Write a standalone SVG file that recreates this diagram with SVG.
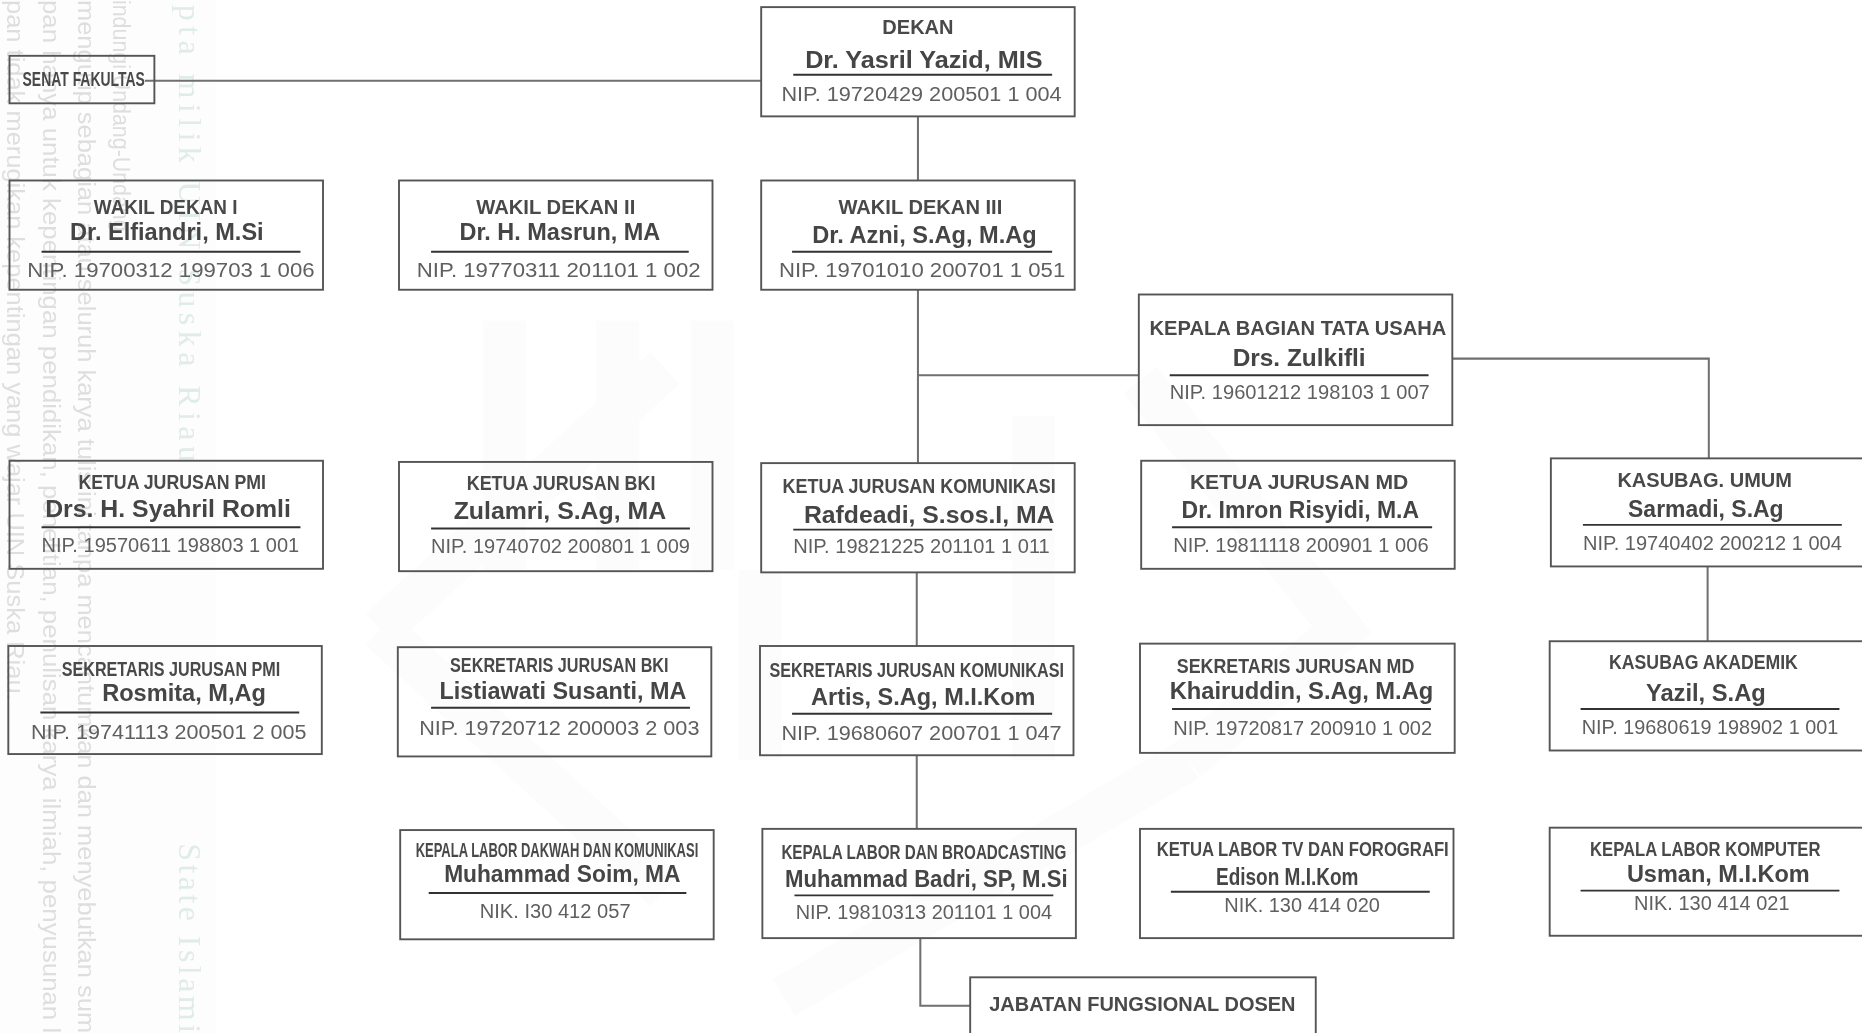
<svg xmlns="http://www.w3.org/2000/svg" width="1862" height="1033" viewBox="0 0 1862 1033">
<style>
text{font-family:"Liberation Sans",Arial,sans-serif}
.b{fill:none;stroke:#555;stroke-width:1.6}
.u{stroke:#333;stroke-width:1.6;fill:none}
.c{fill:none;stroke:#6f6f6f;stroke-width:1.7}
.l{font-size:16.5px;font-weight:700;fill:#484848}
.n{font-size:20px;font-weight:700;fill:#444}
.p{font-size:17.5px;fill:#5f5f5f}
.w{font-size:19.5px;fill:#dedede}
.g{font-size:27px;fill:#e0ece8;font-family:"Liberation Serif",serif}
</style>
<defs><filter id="soft" x="-2%" y="-2%" width="104%" height="104%"><feGaussianBlur stdDeviation="0.3"/></filter></defs>
<g transform="scale(1.1875)" filter="url(#soft)">
<g id="background">
<rect x="0" y="0" width="182" height="870" fill="#fdfdfd"/>
<g fill="none" stroke="#fcfcfc" stroke-width="36">
<path d="M320 530L560 310M560 750L320 530M660 840L1000 640M960 320L1130 530L1000 640"/>
<path d="M425 270V480M520 270V480M600 270V480M870 350V640M640 480V640"/>
</g>
<text class="w" transform="translate(95,0) rotate(90)" textLength="195" lengthAdjust="spacingAndGlyphs">indungi Undang-Undang</text>
<text class="w" transform="translate(66,0) rotate(90)" textLength="870" lengthAdjust="spacingAndGlyphs">mengutip sebagian atau seluruh karya tulis ini tanpa mencantumkan dan menyebutkan sum</text>
<text class="w" transform="translate(36,0) rotate(90)" textLength="870" lengthAdjust="spacingAndGlyphs">pan hanya untuk kepentingan pendidikan, penelitian, penulisan karya ilmiah, penyusunan l</text>
<text class="w" transform="translate(6,0) rotate(90)" textLength="590" lengthAdjust="spacingAndGlyphs">pan tidak merugikan kepentingan yang wajar UIN Suska Riau.</text>
<text class="g" transform="translate(151,4) rotate(90)" textLength="385" lengthAdjust="spacing">pta milik UIN Suska Riau</text>
<text class="g" transform="translate(151,710) rotate(90)" textLength="160" lengthAdjust="spacing">State Islami</text>
</g>
<g id="connectors">
<path class="c" d="M122 68H641"/>
<path class="c" d="M773 98V152"/>
<path class="c" d="M773 244V390"/>
<path class="c" d="M773 316H959"/>
<path class="c" d="M772 482V544"/>
<path class="c" d="M772 636V698"/>
<path class="c" d="M775 790V847H817"/>
<path class="c" d="M1223 302H1439V386"/>
<path class="c" d="M1438 477V540"/>
</g>
<g id="senat"><rect class="b" x="8" y="47" width="122" height="40"/><text class="l" x="19" y="72" textLength="103" lengthAdjust="spacingAndGlyphs">SENAT FAKULTAS</text></g>
<g id="dekan"><rect class="b" x="641" y="6" width="264" height="92"/>
<text class="l" x="743" y="29" textLength="60" lengthAdjust="spacingAndGlyphs">DEKAN</text>
<text class="n" x="678" y="57" textLength="200" lengthAdjust="spacingAndGlyphs">Dr. Yasril Yazid, MIS</text>
<path class="u" d="M668 63H886"/>
<text class="p" x="658" y="85" textLength="236" lengthAdjust="spacingAndGlyphs">NIP. 19720429 200501 1 004</text></g>
<g id="wakil-dekan-1"><rect class="b" x="8" y="152" width="264" height="92"/>
<text class="l" x="79" y="180" textLength="121" lengthAdjust="spacingAndGlyphs">WAKIL DEKAN I</text>
<text class="n" x="59" y="202" textLength="163" lengthAdjust="spacingAndGlyphs">Dr. Elfiandri, M.Si</text>
<path class="u" d="M35 212H253"/>
<text class="p" x="23" y="233" textLength="242" lengthAdjust="spacingAndGlyphs">NIP. 19700312 199703 1 006</text></g>
<g id="wakil-dekan-2"><rect class="b" x="336" y="152" width="264" height="92"/>
<text class="l" x="401" y="180" textLength="134" lengthAdjust="spacingAndGlyphs">WAKIL DEKAN II</text>
<text class="n" x="387" y="202" textLength="169" lengthAdjust="spacingAndGlyphs">Dr. H. Masrun, MA</text>
<path class="u" d="M363 212H580"/>
<text class="p" x="351" y="233" textLength="239" lengthAdjust="spacingAndGlyphs">NIP. 19770311 201101 1 002</text></g>
<g id="wakil-dekan-3"><rect class="b" x="641" y="152" width="264" height="92"/>
<text class="l" x="706" y="180" textLength="138" lengthAdjust="spacingAndGlyphs">WAKIL DEKAN III</text>
<text class="n" x="684" y="205" textLength="189" lengthAdjust="spacingAndGlyphs">Dr. Azni, S.Ag, M.Ag</text>
<path class="u" d="M667 212H886"/>
<text class="p" x="656" y="233" textLength="241" lengthAdjust="spacingAndGlyphs">NIP. 19701010 200701 1 051</text></g>
<g id="kepala-tata-usaha"><rect class="b" x="959" y="248" width="264" height="110"/>
<text class="l" x="968" y="282" textLength="250" lengthAdjust="spacingAndGlyphs">KEPALA BAGIAN TATA USAHA</text>
<text class="n" x="1038" y="308" textLength="112" lengthAdjust="spacingAndGlyphs">Drs. Zulkifli</text>
<path class="u" d="M985 316H1203"/>
<text class="p" x="985" y="336" textLength="219" lengthAdjust="spacingAndGlyphs">NIP. 19601212 198103 1 007</text></g>
<g id="ketua-pmi"><rect class="b" x="8" y="388" width="264" height="91"/>
<text class="l" x="66" y="412" textLength="158" lengthAdjust="spacingAndGlyphs">KETUA JURUSAN PMI</text>
<text class="n" x="38" y="435" textLength="207" lengthAdjust="spacingAndGlyphs">Drs. H. Syahril Romli</text>
<path class="u" d="M35 444H253"/>
<text class="p" x="35" y="465" textLength="217" lengthAdjust="spacingAndGlyphs">NIP. 19570611 198803 1 001</text></g>
<g id="ketua-bki"><rect class="b" x="336" y="389" width="264" height="92"/>
<text class="l" x="393" y="413" textLength="159" lengthAdjust="spacingAndGlyphs">KETUA JURUSAN BKI</text>
<text class="n" x="382" y="437" textLength="179" lengthAdjust="spacingAndGlyphs">Zulamri, S.Ag, MA</text>
<path class="u" d="M363 445H581"/>
<text class="p" x="363" y="466" textLength="218" lengthAdjust="spacingAndGlyphs">NIP. 19740702 200801 1 009</text></g>
<g id="ketua-komunikasi"><rect class="b" x="641" y="390" width="264" height="92"/>
<text class="l" x="659" y="415" textLength="230" lengthAdjust="spacingAndGlyphs">KETUA JURUSAN KOMUNIKASI</text>
<text class="n" x="677" y="440" textLength="211" lengthAdjust="spacingAndGlyphs">Rafdeadi, S.sos.I, MA</text>
<path class="u" d="M668 446H886"/>
<text class="p" x="668" y="466" textLength="216" lengthAdjust="spacingAndGlyphs">NIP. 19821225 201101 1 011</text></g>
<g id="ketua-md"><rect class="b" x="961" y="388" width="264" height="91"/>
<text class="l" x="1002" y="412" textLength="184" lengthAdjust="spacingAndGlyphs">KETUA JURUSAN MD</text>
<text class="n" x="995" y="436" textLength="200" lengthAdjust="spacingAndGlyphs">Dr. Imron Risyidi, M.A</text>
<path class="u" d="M987 444H1206"/>
<text class="p" x="988" y="465" textLength="215" lengthAdjust="spacingAndGlyphs">NIP. 19811118 200901 1 006</text></g>
<g id="kasubag-umum"><rect class="b" x="1306" y="386" width="270" height="91"/>
<text class="l" x="1362" y="410" textLength="147" lengthAdjust="spacingAndGlyphs">KASUBAG. UMUM</text>
<text class="n" x="1371" y="435" textLength="131" lengthAdjust="spacingAndGlyphs">Sarmadi, S.Ag</text>
<path class="u" d="M1333 442H1551"/>
<text class="p" x="1333" y="463" textLength="218" lengthAdjust="spacingAndGlyphs">NIP. 19740402 200212 1 004</text></g>
<g id="sekretaris-pmi"><rect class="b" x="7" y="544" width="264" height="91"/>
<text class="l" x="52" y="569" textLength="184" lengthAdjust="spacingAndGlyphs">SEKRETARIS JURUSAN PMI</text>
<text class="n" x="86" y="590" textLength="138" lengthAdjust="spacingAndGlyphs">Rosmita, M,Ag</text>
<path class="u" d="M34 600H252"/>
<text class="p" x="26" y="622" textLength="232" lengthAdjust="spacingAndGlyphs">NIP. 19741113 200501 2 005</text></g>
<g id="sekretaris-bki"><rect class="b" x="335" y="545" width="264" height="92"/>
<text class="l" x="379" y="566" textLength="184" lengthAdjust="spacingAndGlyphs">SEKRETARIS JURUSAN BKI</text>
<text class="n" x="370" y="589" textLength="208" lengthAdjust="spacingAndGlyphs">Listiawati Susanti, MA</text>
<path class="u" d="M363 596H581"/>
<text class="p" x="353" y="619" textLength="236" lengthAdjust="spacingAndGlyphs">NIP. 19720712 200003 2 003</text></g>
<g id="sekretaris-komunikasi"><rect class="b" x="640" y="544" width="264" height="92"/>
<text class="l" x="648" y="570" textLength="248" lengthAdjust="spacingAndGlyphs">SEKRETARIS JURUSAN KOMUNIKASI</text>
<text class="n" x="683" y="594" textLength="189" lengthAdjust="spacingAndGlyphs">Artis, S.Ag, M.I.Kom</text>
<path class="u" d="M667 601H886"/>
<text class="p" x="658" y="623" textLength="236" lengthAdjust="spacingAndGlyphs">NIP. 19680607 200701 1 047</text></g>
<g id="sekretaris-md"><rect class="b" x="960" y="542" width="265" height="92"/>
<text class="l" x="991" y="567" textLength="200" lengthAdjust="spacingAndGlyphs">SEKRETARIS JURUSAN MD</text>
<text class="n" x="985" y="589" textLength="222" lengthAdjust="spacingAndGlyphs">Khairuddin, S.Ag, M.Ag</text>
<path class="u" d="M987 597H1205"/>
<text class="p" x="988" y="619" textLength="218" lengthAdjust="spacingAndGlyphs">NIP. 19720817 200910 1 002</text></g>
<g id="kasubag-akademik"><rect class="b" x="1305" y="540" width="271" height="92"/>
<text class="l" x="1355" y="563" textLength="159" lengthAdjust="spacingAndGlyphs">KASUBAG AKADEMIK</text>
<text class="n" x="1386" y="590" textLength="101" lengthAdjust="spacingAndGlyphs">Yazil, S.Ag</text>
<path class="u" d="M1331 597H1549"/>
<text class="p" x="1332" y="618" textLength="216" lengthAdjust="spacingAndGlyphs">NIP. 19680619 198902 1 001</text></g>
<g id="kepala-labor-dakwah"><rect class="b" x="337" y="699" width="264" height="92"/>
<text class="l" x="350" y="722" textLength="238" lengthAdjust="spacingAndGlyphs">KEPALA LABOR DAKWAH DAN KOMUNIKASI</text>
<text class="n" x="374" y="743" textLength="199" lengthAdjust="spacingAndGlyphs">Muhammad Soim, MA</text>
<path class="u" d="M361 752H578"/>
<text class="p" x="404" y="773" textLength="127" lengthAdjust="spacingAndGlyphs">NIK. I30 412 057</text></g>
<g id="kepala-labor-broadcasting"><rect class="b" x="642" y="698" width="264" height="92"/>
<text class="l" x="658" y="723" textLength="240" lengthAdjust="spacingAndGlyphs">KEPALA LABOR DAN BROADCASTING</text>
<text class="n" x="661" y="747" textLength="238" lengthAdjust="spacingAndGlyphs">Muhammad Badri, SP, M.Si</text>
<path class="u" d="M669 754H887"/>
<text class="p" x="670" y="774" textLength="216" lengthAdjust="spacingAndGlyphs">NIP. 19810313 201101 1 004</text></g>
<g id="ketua-labor-tv"><rect class="b" x="960" y="698" width="264" height="92"/>
<text class="l" x="974" y="721" textLength="246" lengthAdjust="spacingAndGlyphs">KETUA LABOR TV DAN FOROGRAFI</text>
<text class="n" x="1024" y="745" textLength="120" lengthAdjust="spacingAndGlyphs">Edison M.I.Kom</text>
<path class="u" d="M986 751H1204"/>
<text class="p" x="1031" y="768" textLength="131" lengthAdjust="spacingAndGlyphs">NIK. 130 414 020</text></g>
<g id="kepala-labor-komputer"><rect class="b" x="1305" y="697" width="271" height="91"/>
<text class="l" x="1339" y="721" textLength="194" lengthAdjust="spacingAndGlyphs">KEPALA LABOR KOMPUTER</text>
<text class="n" x="1370" y="743" textLength="154" lengthAdjust="spacingAndGlyphs">Usman, M.I.Kom</text>
<path class="u" d="M1331 750H1549"/>
<text class="p" x="1376" y="766" textLength="131" lengthAdjust="spacingAndGlyphs">NIK. 130 414 021</text></g>
<g id="jabatan-fungsional"><rect class="b" x="817" y="823" width="291" height="60"/>
<text class="l" x="833" y="851" textLength="258" lengthAdjust="spacingAndGlyphs">JABATAN FUNGSIONAL DOSEN</text></g>
</g>
</svg>
